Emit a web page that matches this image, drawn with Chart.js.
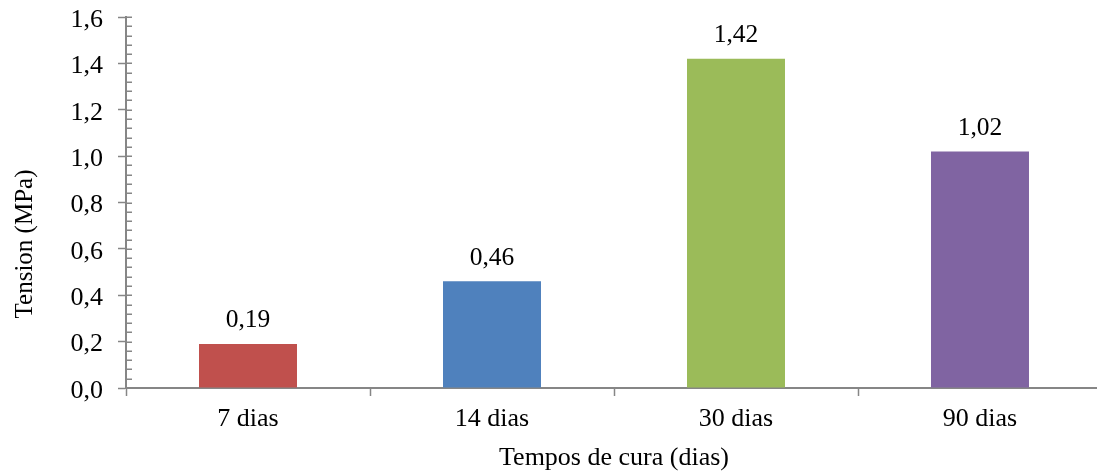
<!DOCTYPE html>
<html>
<head>
<meta charset="utf-8">
<script src="https://cdn.jsdelivr.net/npm/chart.js@4/dist/chart.umd.min.js"></script>
<style>
  html, body { margin: 0; padding: 0; background: #fff; overflow: hidden; }
  #wrap { width: 1102px; height: 473px; }
</style>
</head>
<body>
<div id="wrap"><canvas id="c" width="1102" height="473"></canvas></div>
<script>
// Curing times and measured tension
const categories = ['7 dias', '14 dias', '30 dias', '90 dias'];
const tension = [0.19, 0.46, 1.42, 1.02];
const barColors = ['#C0504D', '#4F81BD', '#9BBB59', '#8064A2'];
const yTickValues = [0, 0.2, 0.4, 0.6, 0.8, 1.0, 1.2, 1.4, 1.6];
const yTitle = 'Tension (MPa)';
const xTitle = 'Tempos de cura (dias)';

const FONT = "'Liberation Serif', 'Times New Roman', serif";
const AXIS_GREY = '#868686';
const comma = (v, d) => v.toFixed(d).replace('.', ',');

Chart.defaults.font.family = FONT;
Chart.defaults.color = '#000';

// Short inward minor ticks along the value axis (5 per major step)
const minorTicks = {
  id: 'minorTicks',
  afterDraw(chart) {
    const y = chart.scales.y;
    const ctx = chart.ctx;
    const x0 = chart.chartArea.left;
    const step = 0.04;
    ctx.save();
    ctx.strokeStyle = AXIS_GREY;
    ctx.lineWidth = 1.5;
    ctx.beginPath();
    for (let i = 0; i <= Math.round(y.max / step); i++) {
      const py = Math.round(y.getPixelForValue(i * step)) + 0.25;
      ctx.moveTo(x0, py);
      ctx.lineTo(x0 + 6, py);
    }
    ctx.stroke();
    ctx.restore();
  }
};

// Value written above each bar
const barValues = {
  id: 'barValues',
  afterDatasetsDraw(chart) {
    const ctx = chart.ctx;
    const meta = chart.getDatasetMeta(0);
    ctx.save();
    ctx.font = '25.5px ' + FONT;
    ctx.fillStyle = '#000';
    ctx.textAlign = 'center';
    ctx.textBaseline = 'alphabetic';
    meta.data.forEach((bar, i) => {
      ctx.fillText(comma(tension[i], 2), bar.x, bar.y - 16.5);
    });
    ctx.restore();
  }
};

// Rotated value-axis title
const yAxisTitle = {
  id: 'yAxisTitle',
  afterDraw(chart) {
    const ctx = chart.ctx;
    ctx.save();
    ctx.font = '25px ' + FONT;
    ctx.fillStyle = '#000';
    ctx.translate(32, 244);
    ctx.rotate(-Math.PI / 2);
    ctx.textAlign = 'center';
    ctx.textBaseline = 'alphabetic';
    ctx.fillText(yTitle, 0, 0);
    ctx.restore();
  }
};

new Chart(document.getElementById('c'), {
  type: 'bar',
  data: {
    labels: categories,
    datasets: [{
      data: tension,
      backgroundColor: barColors,
      borderWidth: 0,
      barPercentage: 0.4016,
      categoryPercentage: 1.0
    }]
  },
  options: {
    responsive: false,
    animation: false,
    layout: { padding: { top: 17, left: 0, right: 0, bottom: 0 } },
    plugins: { legend: { display: false }, tooltip: { enabled: false } },
    scales: {
      x: {
        grid: {
          offset: true,
          drawOnChartArea: false,
          drawTicks: true,
          tickLength: 8,
          tickColor: AXIS_GREY,
          tickWidth: 1.5
        },
        border: { display: true, color: AXIS_GREY, width: 2 },
        ticks: { font: { size: 26, family: FONT }, color: '#000', padding: 8, maxRotation: 0 },
        title: {
          display: true,
          text: xTitle,
          font: { size: 26, family: FONT },
          color: '#000',
          padding: { top: 0, bottom: -1 }
        },
        afterFit(scale) {
          scale.height = 85;
          scale.paddingLeft = 0;
          scale.paddingRight = 0;
        }
      },
      y: {
        min: 0,
        max: 1.6,
        afterBuildTicks(scale) { scale.ticks = yTickValues.map(v => ({ value: v })); },
        grid: {
          drawOnChartArea: false,
          drawTicks: true,
          tickLength: 8,
          tickColor: AXIS_GREY,
          tickWidth: 1.5
        },
        border: { display: true, color: AXIS_GREY, width: 2 },
        ticks: {
          font: { size: 26, family: FONT },
          color: '#000',
          padding: 15,
          labelOffset: 3,
          callback: v => comma(v, 1)
        },
        afterFit(scale) {
          scale.width = 126;
          scale.paddingTop = 0;
          scale.paddingBottom = 0;
        }
      }
    }
  },
  plugins: [minorTicks, barValues, yAxisTitle]
});
</script>
</body>
</html>
